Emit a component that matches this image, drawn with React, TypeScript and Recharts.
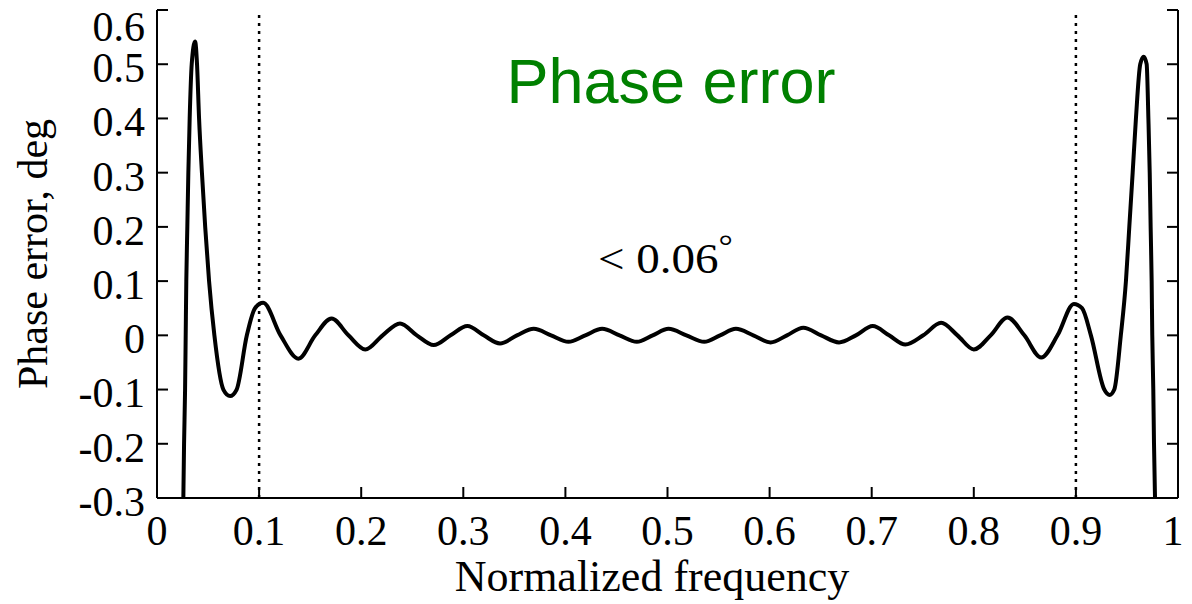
import React from 'react';
import { LineChart, Line, XAxis, YAxis, ReferenceLine, Customized } from 'recharts';

const freq = [
  0.0225, 0.0258, 0.0265, 0.0275, 0.0281, 0.0287, 0.0297, 0.0307, 0.032, 0.034, 0.0373,
  0.0392, 0.0412, 0.044, 0.0472, 0.051, 0.0562, 0.065, 0.0716, 0.078, 0.088, 0.096, 0.104,
  0.121, 0.1385, 0.155, 0.171, 0.1875, 0.204, 0.221, 0.238, 0.2545, 0.271, 0.2875, 0.304,
  0.32, 0.336, 0.3525, 0.369, 0.386, 0.403, 0.4195, 0.436, 0.453, 0.47, 0.4855, 0.501,
  0.5185, 0.536, 0.5515, 0.567, 0.584, 0.601, 0.617, 0.633, 0.6505, 0.668, 0.6845, 0.701,
  0.717, 0.733, 0.7505, 0.768, 0.784, 0.8, 0.8165, 0.833, 0.8495, 0.866, 0.882, 0.898,
  0.906, 0.9147, 0.9278, 0.933, 0.9376, 0.944, 0.949, 0.9523, 0.9556, 0.9588, 0.963, 0.9664,
  0.9693, 0.971, 0.9723, 0.9732, 0.9742, 0.9748, 0.9758, 0.9765, 0.9775, 0.981,
];
const phaseErr = [
  -0.5, -0.3, -0.2, -0.1, 0, 0.1, 0.2, 0.3, 0.4, 0.5, 0.542,
  0.5, 0.4, 0.3, 0.2, 0.1, 0, -0.1, -0.112, -0.1, 0, 0.05, 0.06,
  0, -0.043, 0, 0.031, 0, -0.026, 0, 0.022, 0, -0.018, 0, 0.017,
  0, -0.015, 0, 0.012, 0, -0.012, 0, 0.012, 0, -0.012, 0, 0.012,
  0, -0.012, 0, 0.012, 0, -0.013, 0, 0.014, 0, -0.013, 0, 0.017,
  0, -0.017, 0, 0.023, 0, -0.026, 0, 0.033, 0, -0.041, 0, 0.058,
  0.05, 0, -0.1, -0.11, -0.1, 0, 0.1, 0.2, 0.3, 0.4, 0.5, 0.514,
  0.5, 0.4, 0.3, 0.2, 0.1, 0, -0.1, -0.2, -0.3, -0.5,
];
const xTicks = [0, 0.1, 0.2, 0.3, 0.4, 0.5, 0.6, 0.7, 0.8, 0.9, 1];
const yTicks = [-0.3, -0.2, -0.1, 0, 0.1, 0.2, 0.3, 0.4, 0.5, 0.6];
const markerFreqs = [0.1, 0.9];

const titleText = 'Phase error';
const annotationText = '< 0.06';
const xAxisTitle = 'Normalized frequency';
const yAxisTitle = 'Phase error, deg';

const data = freq.map((f, i) => ({ f, e: phaseErr[i] }));

const SERIF = '"Liberation Serif", "Times New Roman", serif';
const SANS = '"Liberation Sans", Arial, sans-serif';

const fmt = (v: number) => String(Math.round(v * 10) / 10);

const XTick = (props: any) => {
  const { x, y, payload } = props;
  const v = payload.value;
  const dx = v === 1 ? -5 : 0;
  return (
    <text x={x + dx} y={y} dy="0.71em" textAnchor="middle" fontFamily={SERIF} fontSize={42} fill="#000">
      {fmt(v)}
    </text>
  );
};

const YTick = (props: any) => {
  const { x, y, payload } = props;
  const v = payload.value;
  const dy = v === 0.6 ? 16 : 3;
  return (
    <text x={x} y={y + dy} dy="0.355em" textAnchor="end" fontFamily={SERIF} fontSize={42} fill="#000">
      {fmt(v)}
    </text>
  );
};

const Texts = () => (
  <g>
    <text x={671} y={103} textAnchor="middle" fontFamily={SANS} fontSize={63} fill="#008000">
      {titleText}
    </text>
    <g transform="translate(598, 273) scale(1.12, 1)">
      <text x={0} y={0} fontFamily={SERIF} fontSize={42} fill="#000">
        {annotationText}
        <tspan dy={-16} fontSize={32}>°</tspan>
      </text>
    </g>
    <text x={652} y={591} textAnchor="middle" fontFamily={SERIF} fontSize={44} fill="#000">
      {xAxisTitle}
    </text>
    <text
      x={47}
      y={254}
      textAnchor="middle"
      transform="rotate(-90, 47, 254)"
      fontFamily={SERIF}
      fontSize={42}
      fill="#000"
    >
      {yAxisTitle}
    </text>
  </g>
);

export default function App() {
  return (
    <div style={{ position: 'absolute', left: 0, top: 0, width: 1192, height: 604, background: '#fff' }}>
      <LineChart width={1192} height={604} data={data} margin={{ top: 10, right: 0, bottom: 0, left: 0 }}>
        <XAxis
          dataKey="f"
          type="number"
          domain={[0, 1]}
          ticks={xTicks}
          allowDataOverflow
          height={106}
          tickSize={-11}
          tickMargin={28}
          tick={<XTick />}
          axisLine={{ stroke: '#000', strokeWidth: 2 }}
          tickLine={{ stroke: '#000', strokeWidth: 2 }}
          interval={0}
        />
        <XAxis
          xAxisId="t"
          orientation="top"
          dataKey="f"
          type="number"
          domain={[0, 1]}
          ticks={xTicks}
          allowDataOverflow
          height={0}
          tickSize={-11}
          tickFormatter={() => ''}
          axisLine={{ stroke: '#000', strokeWidth: 2 }}
          tickLine={{ stroke: '#000', strokeWidth: 2 }}
          interval={0}
        />
        <YAxis
          type="number"
          domain={[-0.3, 0.6]}
          ticks={yTicks}
          allowDataOverflow
          width={157}
          tickSize={-11}
          tickMargin={23}
          tick={<YTick />}
          axisLine={{ stroke: '#000', strokeWidth: 2 }}
          tickLine={{ stroke: '#000', strokeWidth: 2 }}
          interval={0}
        />
        <YAxis
          yAxisId="r"
          orientation="right"
          type="number"
          domain={[-0.3, 0.6]}
          ticks={yTicks}
          allowDataOverflow
          width={14}
          tickSize={-11}
          tickFormatter={() => ''}
          axisLine={{ stroke: '#000', strokeWidth: 2 }}
          tickLine={{ stroke: '#000', strokeWidth: 2 }}
          interval={0}
        />
        {markerFreqs.map((m) => (
          <ReferenceLine key={m} x={m} stroke="#000" strokeWidth={2.5} strokeDasharray="3 5" />
        ))}
        <Line
          dataKey="e"
          type="monotone"
          stroke="#000"
          strokeWidth={4}
          dot={false}
          activeDot={false}
          isAnimationActive={false}
        />
        <Customized component={<Texts />} />
      </LineChart>
    </div>
  );
}
